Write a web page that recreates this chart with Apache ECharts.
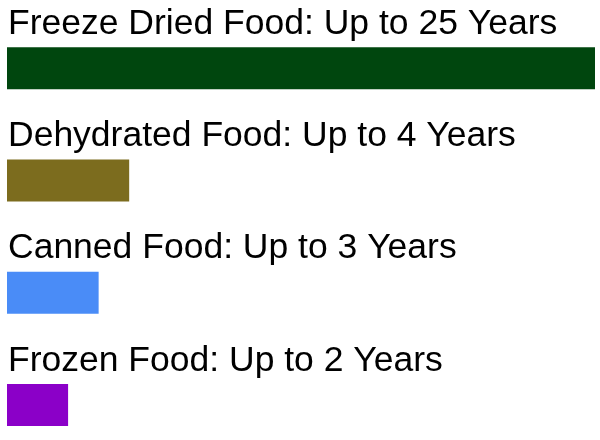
<!DOCTYPE html>
<html>
<head>
<meta charset="utf-8">
<script src="https://cdn.jsdelivr.net/npm/echarts@6/dist/echarts.min.js"></script>
<style>html,body{margin:0;padding:0;background:#fff;overflow:hidden;}#c{width:600px;height:470px;}</style>
</head>
<body>
<div id="c"></div>
<script>
var categories = ['Freeze Dried Food', 'Dehydrated Food', 'Canned Food', 'Frozen Food'];
var years = [25, 4, 3, 2];
var colors = ['#00460e', '#7c6c1e', '#4a8cf7', '#8b00c8'];

var chart = echarts.init(document.getElementById('c'), null, {renderer: 'canvas'});
chart.setOption({
  animation: false,
  grid: {left: 7, right: 5, top: 12, height: 449, containLabel: false},
  xAxis: {type: 'value', min: 0, max: 19.25, show: false},
  yAxis: {type: 'category', data: categories, inverse: true, show: false},
  series: [{
    type: 'bar',
    barWidth: 42,
    clip: true,
    data: years.map(function (v, i) { return {value: v, itemStyle: {color: colors[i]}}; }),
    label: {
      show: true,
      position: [1, -5],
      align: 'left',
      verticalAlign: 'bottom',
      color: '#000',
      fontFamily: 'Liberation Sans, Arial, sans-serif',
      fontSize: 35.5,
      formatter: function (p) { return p.name + ': Up to ' + p.value + ' Years'; }
    }
  }]
});
</script>
</body>
</html>
